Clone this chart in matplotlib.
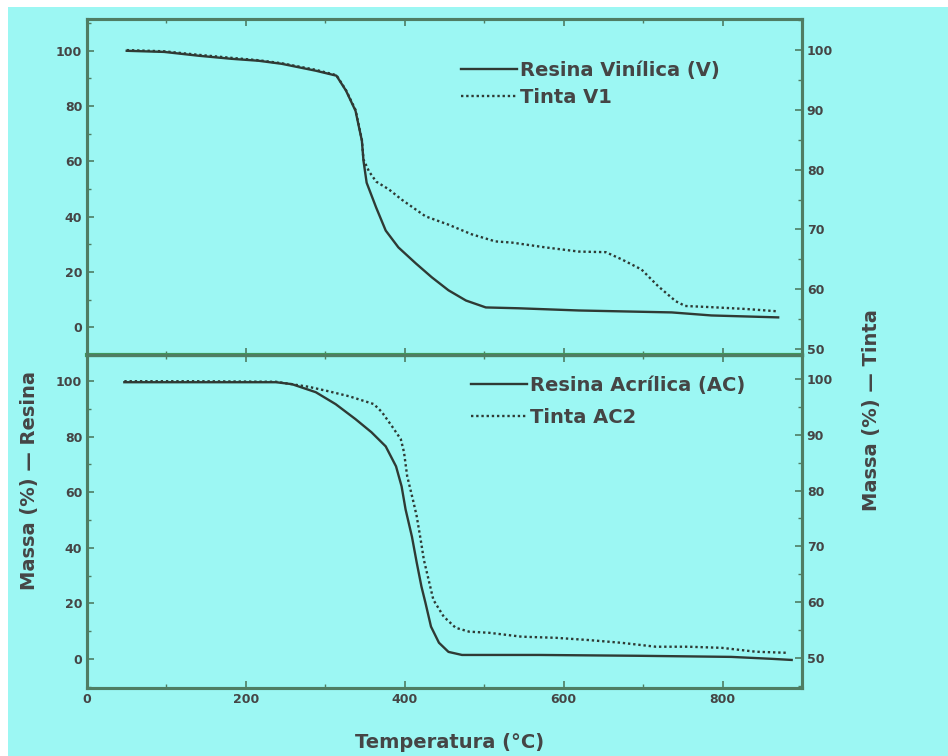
import matplotlib
matplotlib.use("Agg")
import matplotlib.pyplot as plt
from matplotlib.patches import Rectangle
from matplotlib.ticker import MultipleLocator

# Top panel: Resina Vinilica (V) -> left axis, Tinta V1 -> right axis
temp_v = [50, 97, 141, 182, 216, 245, 288, 314, 326, 338, 346, 348, 352,
          364, 376, 392, 414, 434, 455, 477, 502, 543, 619, 736, 786, 870]
resina_v = [100, 99.6, 98.2, 97.1, 96.4, 95.3, 92.8, 91.0, 85.6, 78.3, 67.5,
            60.3, 52.3, 43.3, 35.0, 28.9, 23.1, 18.1, 13.4, 9.7, 7.2, 6.9,
            6.1, 5.4, 4.3, 3.6]
temp_v1 = [50, 97, 141, 182, 216, 245, 288, 314, 326, 338, 346, 348, 355,
           364, 380, 396, 426, 455, 484, 514, 535, 577, 619, 653, 673, 698,
           719, 741, 753, 786, 829, 870]
tinta_v1 = [100, 99.8, 99.2, 98.7, 98.3, 97.8, 96.7, 95.8, 93.3, 90.0, 85.0,
            81.7, 79.7, 78.0, 76.7, 75.0, 72.2, 70.8, 69.2, 68.0, 67.8, 67.0,
            66.3, 66.2, 65.0, 63.3, 60.5, 58.0, 57.2, 57.0, 56.7, 56.3]

# Bottom panel: Resina Acrilica (AC) -> left axis, Tinta AC2 -> right axis
temp_ac = [47, 141, 238, 258, 288, 313, 338, 358, 376, 389, 396, 401, 409,
           415, 421, 426, 433, 443, 455, 472, 493, 569, 694, 811, 862, 887]
resina_ac = [99.6, 99.6, 99.6, 98.9, 96.0, 91.7, 86.3, 81.6, 76.5, 69.3, 62.1,
             53.8, 44.0, 34.7, 26.0, 20.2, 11.6, 5.8, 2.5, 1.4, 1.4, 1.4, 1.1,
             0.7, 0.0, -0.4]
temp_ac2 = [47, 141, 238, 279, 304, 330, 361, 371, 384, 395, 399, 403, 411,
            415, 420, 424, 436, 449, 464, 481, 506, 547, 590, 631, 673, 716,
            757, 799, 842, 883]
tinta_ac2 = [99.6, 99.6, 99.5, 98.6, 97.8, 96.9, 95.5, 94.1, 91.5, 89.2, 86.9,
             82.6, 77.9, 75.4, 71.2, 67.6, 60.4, 57.4, 55.4, 54.7, 54.5, 53.8,
             53.6, 53.2, 52.7, 52.0, 52.0, 51.8, 51.1, 50.9]

BG = "#9cf7f3"
FRAME = "#4f7d63"
LINE = "#2f3a34"
TXT = "#454545"

W, H = 948, 756
fig = plt.figure(figsize=(W / 100, H / 100), dpi=100)
fig.patch.set_facecolor("white")
fig.patches.append(Rectangle((8 / W, 0), 1, 1 - 7 / H, transform=fig.transFigure,
                             facecolor=BG, edgecolor="none", zorder=-10))

x0, x1 = 87 / W, 802 / W
y_top, y_mid, y_bot = 1 - 19 / H, 1 - 355 / H, 1 - 688 / H
ax_top = fig.add_axes([x0, y_mid, x1 - x0, y_top - y_mid])
ax_bot = fig.add_axes([x0, y_bot, x1 - x0, y_mid - y_bot])
ax_top_r = ax_top.twinx()
ax_bot_r = ax_bot.twinx()


def style(ax):
    ax.set_facecolor("none")
    for s in ax.spines.values():
        s.set_color(FRAME)
        s.set_linewidth(2.2)
    ax.tick_params(which="both", direction="in", colors=FRAME,
                   labelcolor=TXT, labelsize=9)
    ax.tick_params(which="major", length=5, width=1.2)
    ax.tick_params(which="minor", length=3, width=1)
    for lab in ax.get_xticklabels() + ax.get_yticklabels():
        lab.set_fontweight("bold")


for ax in (ax_top, ax_bot):
    ax.set_xlim(0, 900)
    ax.xaxis.set_major_locator(MultipleLocator(200))
    ax.xaxis.set_minor_locator(MultipleLocator(100))
    ax.yaxis.set_major_locator(MultipleLocator(20))
    ax.yaxis.set_minor_locator(MultipleLocator(10))
    ax.tick_params(top=True, which="both")

ax_top.set_ylim(-10, 111.5)
ax_top_r.set_ylim(49, 105.2)
ax_bot.set_ylim(-10.5, 109.4)
ax_bot_r.set_ylim(44.6, 104.3)
for ax in (ax_top_r, ax_bot_r):
    ax.yaxis.set_major_locator(MultipleLocator(10))
    ax.yaxis.set_minor_locator(MultipleLocator(5))

ax_top.tick_params(labelbottom=False)

l1, = ax_top.plot(temp_v, resina_v, color=LINE, lw=1.7, label="Resina Vinílica (V)")
l2, = ax_top_r.plot(temp_v1, tinta_v1, color=LINE, lw=1.7, ls=(0, (1, 1.2)), label="Tinta V1")
l3, = ax_bot.plot(temp_ac, resina_ac, color=LINE, lw=1.7, label="Resina Acrílica (AC)")
l4, = ax_bot_r.plot(temp_ac2, tinta_ac2, color=LINE, lw=1.7, ls=(0, (1, 1.2)), label="Tinta AC2")

for ax in (ax_top, ax_bot, ax_top_r, ax_bot_r):
    style(ax)
# the shared border between the panels is drawn a bit greener
ax_top.spines["bottom"].set_color("#3f9a5c")
ax_top.spines["bottom"].set_linewidth(3)

leg_kw = dict(frameon=False, handlelength=2.9, handletextpad=0.15,
              prop={"weight": "bold", "size": 14}, labelcolor=TXT,
              borderaxespad=0, borderpad=0)
ax_top_r.legend([l1, l2], [l1.get_label(), l2.get_label()], loc="upper left",
                bbox_to_anchor=(461 / W, 1 - 61 / H), bbox_transform=fig.transFigure,
                labelspacing=0.4, **leg_kw)
ax_bot_r.legend([l3, l4], [l3.get_label(), l4.get_label()], loc="upper left",
                bbox_to_anchor=(471 / W, 1 - 376 / H), bbox_transform=fig.transFigure,
                labelspacing=0.65, **leg_kw)

fig.text(30 / W, 1 - 480 / H, "Massa (%) — Resina", rotation=90, ha="center",
         va="center", fontsize=14, fontweight="bold", color=TXT)
fig.text(872 / W, 1 - 410 / H, "Massa (%) — Tinta", rotation=90, ha="center",
         va="center", fontsize=14, fontweight="bold", color=TXT)
fig.text(450 / W, 1 - 742 / H, "Temperatura (°C)", ha="center", va="center",
         fontsize=14, fontweight="bold", color=TXT)

fig.savefig("out.png", dpi=100, facecolor=fig.get_facecolor())
